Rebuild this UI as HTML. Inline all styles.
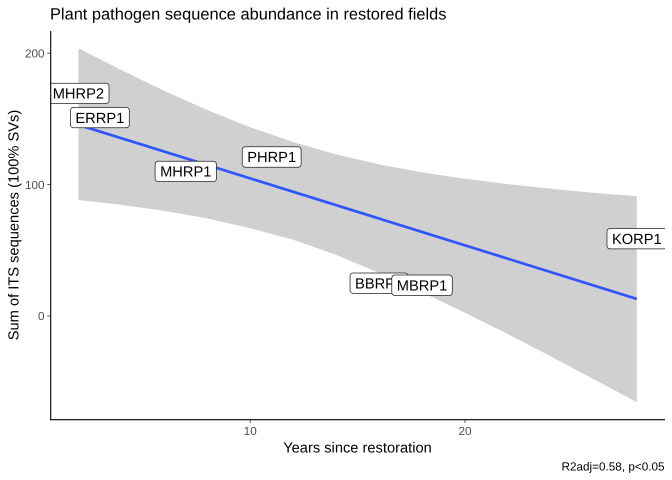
<!DOCTYPE html>
<html lang="en">
<head>
<meta charset="utf-8">
<title>Plant pathogen sequence abundance in restored fields</title>
<style>
html,body{margin:0;padding:0;background:#fff;}
svg{display:block;font-family:"Liberation Sans",Arial,sans-serif;text-rendering:geometricPrecision;}
</style>
</head>
<body>
<svg id="chart" xmlns="http://www.w3.org/2000/svg" width="672" height="480" viewBox="0 0 672 480">
  <defs>
    <clipPath id="panel-clip"><rect x="50.5" y="31" width="614.5" height="389"></rect></clipPath>
  </defs>
  <rect x="0" y="0" width="672" height="480" fill="#fff"></rect>
  <g id="panel" clip-path="url(#panel-clip)"></g>
  <g id="axes"></g>
  <text x="50" y="19.5" font-size="16.4" fill="#000">Plant pathogen sequence abundance in restored fields</text>
  <text x="357.5" y="452.3" font-size="14.67" text-anchor="middle" fill="#000">Years since restoration</text>
  <text transform="translate(18.3,225) rotate(-90)" font-size="14.67" text-anchor="middle" fill="#000">Sum of ITS sequences (100% SVs)</text>
  <text x="664.5" y="470.7" font-size="11.73" text-anchor="end" fill="#000">R2adj=0.58, p&lt;0.05</text>
</svg>
<script>
const xTicks = [10, 20];
const yTicks = [0, 100, 200];
const bandYears = [2, 4, 6, 8, 10, 12, 14, 16, 18, 20, 22, 24, 26, 28];
const bandUpper = [203.8, 187.2, 171.3, 156.8, 143.7, 132.4, 123, 115.4, 109.3, 104.5, 100.4, 96.8, 93.7, 91.2];
const bandLower = [88.2, 84.6, 80, 74.3, 66.8, 58, 46.5, 32.8, 18.1, 2.5, -13.8, -30.8, -48.1, -65.6];
const fitYears = [2, 28];
const fitValues = [145.5, 13];
const siteNames = ['MHRP2', 'ERRP1', 'MHRP1', 'PHRP1', 'BBRP1', 'MBRP1', 'KORP1'];
const siteYears = [2, 3, 7, 11, 16, 18, 28];
const siteValues = [169.4, 151, 110, 121, 25, 23.4, 58.8];

const NS = 'http://www.w3.org/2000/svg';
const xScale = function (v) { return 250.2 + (v - 10) * 21.48; };
const yScale = function (v) { return 316 - v * 1.314; };
const panel = document.getElementById('panel');
const axes = document.getElementById('axes');

function make(tag, parent, attrs) {
  const el = document.createElementNS(NS, tag);
  Object.keys(attrs).forEach(function (k) { el.setAttribute(k, attrs[k]); });
  parent.appendChild(el);
  return el;
}

const upperPts = bandYears.map(function (x, i) { return xScale(x).toFixed(1) + ',' + yScale(bandUpper[i]).toFixed(1); });
const lowerPts = bandYears.map(function (x, i) { return xScale(x).toFixed(1) + ',' + yScale(bandLower[i]).toFixed(1); }).reverse();
const band = make('polygon', panel, { points: upperPts.concat(lowerPts).join(' '), fill: '#d0d0d0' });



const fit = make('line', panel, {
  x1: xScale(fitYears[0]), y1: yScale(fitValues[0]),
  x2: xScale(fitYears[1]), y2: yScale(fitValues[1]),
  stroke: '#2f55ff', 'stroke-width': 2.7
});



siteNames.forEach(function (name, i) {
  const cx = xScale(siteYears[i]);
  const cy = yScale(siteValues[i]);
  const g = make('g', panel, {});
  
  
  const box = make('rect', g, { y: cy - 10.2, height: 20.4, rx: 3, ry: 3, fill: '#fff', stroke: '#222', 'stroke-width': 0.75 });
  
  
  const t = make('text', g, { x: cx, y: cy + 5.2, 'font-size': 14.67, 'text-anchor': 'middle', fill: '#000' });
  
  
  t.textContent = name;
  const w = t.getComputedTextLength() + 10;
  box.setAttribute('x', cx - w / 2);
  box.setAttribute('width', w);
});

const yAxisLine = make('line', axes, { x1: 50.7, y1: 31, x2: 50.7, y2: 420.2, stroke: '#000', 'stroke-width': 1.1 });


const xAxisLine = make('line', axes, { x1: 50.2, y1: 419.7, x2: 665, y2: 419.7, stroke: '#000', 'stroke-width': 1.1 });



xTicks.forEach(function (v) {
  const px = xScale(v);
  const tick = make('line', axes, { x1: px, y1: 420, x2: px, y2: 423, stroke: '#333', 'stroke-width': 0.8 });
  
  
  const label = make('text', axes, { x: px, y: 435.2, 'font-size': 11.73, 'text-anchor': 'middle', fill: '#4D4D4D' });
  
  
  label.textContent = v;
});

yTicks.forEach(function (v) {
  const py = yScale(v);
  const tick = make('line', axes, { x1: 47.3, y1: py, x2: 50.5, y2: py, stroke: '#333', 'stroke-width': 0.8 });
  
  
  const label = make('text', axes, { x: 44.5, y: py + 4.2, 'font-size': 11.73, 'text-anchor': 'end', fill: '#4D4D4D' });
  
  
  label.textContent = v;
});
</script>
</body>
</html>
